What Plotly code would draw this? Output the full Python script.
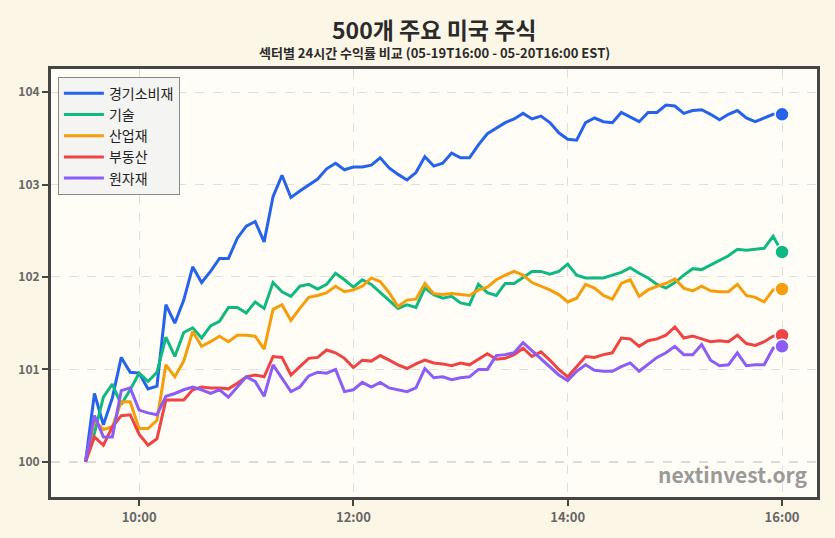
import pandas as pd
import plotly.graph_objects as go

# ---- data ----
times = pd.date_range("2024-05-20 09:30", periods=79, freq="5min")

sectors = ["경기소비재", "기술", "산업재", "부동산", "원자재"]
colors = ["#2563eb", "#10b981", "#f59e0b", "#ef4444", "#8b5cf6"]

consumer = [100.00, 100.74, 100.40, 100.69, 101.13, 100.97, 100.96, 100.79, 100.82, 101.70,
            101.50, 101.75, 102.11, 101.94, 102.06, 102.20, 102.20, 102.42, 102.55, 102.60,
            102.38, 102.87, 103.10, 102.86, 102.93, 103.00, 103.06, 103.17, 103.23, 103.16,
            103.19, 103.19, 103.21, 103.29, 103.18, 103.11, 103.05, 103.13, 103.30, 103.20,
            103.23, 103.34, 103.29, 103.29, 103.43, 103.55, 103.61, 103.67, 103.71, 103.77,
            103.71, 103.74, 103.67, 103.56, 103.49, 103.48, 103.67, 103.72, 103.68, 103.67,
            103.78, 103.73, 103.68, 103.78, 103.78, 103.86, 103.85, 103.77, 103.80, 103.81,
            103.76, 103.70, 103.76, 103.80, 103.72, 103.68, 103.72, 103.76, 103.76]

tech = [100.00, 100.31, 100.70, 100.84, 100.62, 100.78, 100.96, 100.87, 100.97, 101.35,
        101.14, 101.40, 101.45, 101.34, 101.47, 101.52, 101.67, 101.67, 101.61, 101.73,
        101.66, 101.94, 101.84, 101.79, 101.90, 101.92, 101.87, 101.92, 102.04, 101.97,
        101.89, 101.97, 101.92, 101.83, 101.75, 101.66, 101.70, 101.67, 101.88, 101.81,
        101.77, 101.79, 101.72, 101.70, 101.92, 101.83, 101.80, 101.93, 101.93, 102.00,
        102.06, 102.06, 102.03, 102.06, 102.14, 102.02, 101.99, 101.99, 101.99, 102.02,
        102.05, 102.10, 102.04, 101.99, 101.92, 101.88, 101.94, 102.02, 102.09, 102.08,
        102.13, 102.18, 102.23, 102.30, 102.29, 102.30, 102.31, 102.44, 102.27]

industrial = [100.00, 100.45, 100.35, 100.38, 100.65, 100.65, 100.36, 100.36, 100.45, 101.05,
              100.92, 101.09, 101.41, 101.25, 101.30, 101.36, 101.30, 101.37, 101.37, 101.36,
              101.22, 101.65, 101.70, 101.53, 101.66, 101.78, 101.80, 101.83, 101.90, 101.84,
              101.86, 101.90, 101.99, 101.95, 101.83, 101.68, 101.75, 101.76, 101.93, 101.82,
              101.81, 101.82, 101.81, 101.80, 101.86, 101.89, 101.97, 102.02, 102.06, 102.02,
              101.94, 101.90, 101.86, 101.81, 101.73, 101.77, 101.92, 101.88, 101.80, 101.76,
              101.93, 101.97, 101.79, 101.86, 101.90, 101.93, 101.98, 101.88, 101.85, 101.90,
              101.85, 101.84, 101.84, 101.92, 101.80, 101.78, 101.73, 101.86, 101.87]

real_estate = [100.00, 100.27, 100.18, 100.38, 100.50, 100.51, 100.30, 100.18, 100.25, 100.67,
               100.67, 100.67, 100.78, 100.81, 100.80, 100.80, 100.79, 100.85, 100.92, 100.94,
               100.92, 101.14, 101.13, 100.94, 101.03, 101.12, 101.13, 101.21, 101.18, 101.12,
               101.02, 101.10, 101.09, 101.15, 101.10, 101.05, 101.01, 101.06, 101.10, 101.07,
               101.06, 101.04, 101.07, 101.05, 101.11, 101.17, 101.11, 101.12, 101.16, 101.23,
               101.14, 101.19, 101.10, 101.00, 100.92, 101.03, 101.14, 101.13, 101.16, 101.18,
               101.34, 101.33, 101.25, 101.31, 101.33, 101.37, 101.46, 101.34, 101.36, 101.33,
               101.30, 101.31, 101.30, 101.37, 101.28, 101.26, 101.30, 101.36, 101.37]

materials = [100.00, 100.50, 100.27, 100.27, 100.77, 100.80, 100.56, 100.53, 100.51, 100.71,
             100.74, 100.78, 100.81, 100.78, 100.74, 100.78, 100.70, 100.81, 100.92, 100.87,
             100.71, 101.05, 100.91, 100.76, 100.81, 100.93, 100.97, 100.96, 101.00, 100.76,
             100.78, 100.86, 100.81, 100.86, 100.80, 100.78, 100.76, 100.80, 101.01, 100.91,
             100.92, 100.89, 100.91, 100.92, 101.00, 101.00, 101.15, 101.16, 101.18, 101.29,
             101.20, 101.11, 101.02, 100.94, 100.88, 100.98, 101.05, 100.99, 100.98, 100.98,
             101.03, 101.07, 100.98, 101.06, 101.13, 101.18, 101.25, 101.16, 101.16, 101.27,
             101.10, 101.04, 101.05, 101.18, 101.04, 101.05, 101.05, 101.23, 101.25]

series = [consumer, tech, industrial, real_estate, materials]

y_ticks = [100, 101, 102, 103, 104]
x_ticks = ["2024-05-20 10:00", "2024-05-20 12:00", "2024-05-20 14:00", "2024-05-20 16:00"]
x_tick_labels = ["10:00", "12:00", "14:00", "16:00"]

title_text = "500개 주요 미국 주식"
subtitle_text = "섹터별 24시간 수익률 비교 (05-19T16:00 - 05-20T16:00 EST)"
watermark_text = "nextinvest.org"

FONT = "Noto Sans CJK KR, Noto Sans, sans-serif"

fig = go.Figure()
for name, vals, col in zip(sectors, series, colors):
    fig.add_trace(go.Scatter(x=times, y=vals, mode="lines", name=name,
                             line=dict(color=col, width=3)))
for name, vals, col in zip(sectors, series, colors):
    fig.add_trace(go.Scatter(x=[times[-1]], y=[vals[-1]], mode="markers", showlegend=False,
                             marker=dict(color=col, size=14, line=dict(color="white", width=1.5)),
                             hoverinfo="skip"))

fig.add_shape(type="line", xref="paper", x0=0, x1=1, yref="y", y0=100, y1=100,
              line=dict(color="#b5b5b5", width=1.5, dash="dash"), layer="below")

fig.update_layout(
    width=835, height=538,
    paper_bgcolor="#fcf6e6",
    plot_bgcolor="#fffdf6",
    margin=dict(l=51, r=18, t=69, b=41),
    font=dict(family=FONT, color="#333"),
    showlegend=True,
    legend=dict(x=0.009, y=0.982, xanchor="left", yanchor="top",
                bgcolor="#f4f4f3", bordercolor="#8a8a8a", borderwidth=1,
                font=dict(size=14, color="#222", family=FONT),
                itemwidth=40, tracegroupgap=0),
    xaxis=dict(
        range=["2024-05-20 09:10:40", "2024-05-20 16:19:35"],
        tickvals=x_ticks, ticktext=x_tick_labels,
        showgrid=True, gridcolor="#dedede", griddash="dash", gridwidth=1,
        showline=True, linecolor="#454545", linewidth=3, mirror=True,
        ticks="outside", ticklen=6, tickwidth=1.5, tickcolor="#454545",
        tickfont=dict(size=13, color="#666", family=FONT, weight="bold"),
        zeroline=False,
    ),
    yaxis=dict(
        range=[99.62, 104.25],
        tickvals=y_ticks,
        showgrid=True, gridcolor="#dedede", griddash="dash", gridwidth=1,
        showline=True, linecolor="#454545", linewidth=3, mirror=True,
        ticks="outside", ticklen=6, tickwidth=1.5, tickcolor="#454545",
        tickfont=dict(size=12, color="#666", family=FONT, weight="bold"),
        zeroline=False,
    ),
    annotations=[
        dict(text="<b>" + title_text + "</b>", xref="paper", yref="paper",
             x=0.5, y=1.093, xanchor="center", yanchor="middle", showarrow=False,
             font=dict(size=23, color="#2a2a2a", family=FONT)),
        dict(text="<b>" + subtitle_text + "</b>", xref="paper", yref="paper",
             x=0.5, y=1.039, xanchor="center", yanchor="middle", showarrow=False,
             font=dict(size=13, color="#2a2a2a", family=FONT)),
        dict(text="<b>" + watermark_text + "</b>", xref="paper", yref="paper",
             x=0.99, y=0.015, xanchor="right", yanchor="bottom",
             showarrow=False, font=dict(size=21, color="#9a9a9a", family=FONT)),
    ],
)

fig.write_html("out.html")
